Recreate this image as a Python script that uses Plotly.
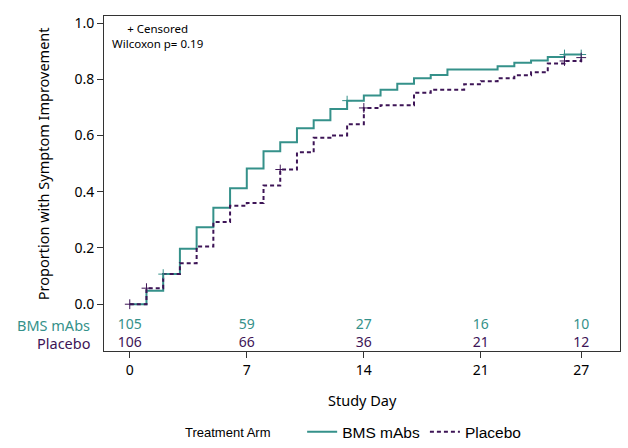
import plotly.graph_objects as go

# ---- data ----
bms_days = [0, 1, 2, 3, 4, 5, 6, 7, 8, 9, 10, 11, 12, 13, 14, 15, 16, 17, 18, 19, 22, 23, 24, 25, 26, 27]
bms_prop = [0.0, 0.048, 0.107, 0.197, 0.274, 0.343, 0.412, 0.483, 0.544, 0.576, 0.626, 0.654, 0.694,
            0.724, 0.742, 0.763, 0.784, 0.804, 0.815, 0.835, 0.846, 0.859, 0.867, 0.879, 0.888, 0.888]
bms_cens_days = [2, 13, 26, 27]
bms_cens_prop = [0.107, 0.724, 0.888, 0.888]

pla_days = [0, 1, 2, 3, 4, 5, 6, 7, 8, 9, 10, 11, 12, 13, 14, 15, 17, 18, 20, 21, 22, 23, 24, 25, 26, 27]
pla_prop = [0.0, 0.057, 0.107, 0.146, 0.205, 0.292, 0.350, 0.360, 0.422, 0.479, 0.540, 0.592, 0.600,
            0.640, 0.698, 0.708, 0.752, 0.763, 0.782, 0.793, 0.804, 0.814, 0.825, 0.856, 0.865, 0.877]
pla_cens_days = [0, 1, 9, 14, 26, 27]
pla_cens_prop = [0.0, 0.057, 0.479, 0.698, 0.865, 0.877]

risk_days = [0, 7, 14, 21, 27]
bms_at_risk = [105, 59, 27, 16, 10]
pla_at_risk = [106, 66, 36, 21, 12]

x_ticks = [0, 7, 14, 21, 27]
y_ticks = [0.0, 0.2, 0.4, 0.6, 0.8, 1.0]
y_tick_labels = ["0.0", "0.2", "0.4", "0.6", "0.8", "1.0"]

TEAL = "#35918a"
PURPLE = "#3d1456"
TICKFONT = "Noto Sans"
LEGFONT = "Liberation Sans"

fig = go.Figure()

fig.add_trace(go.Scatter(x=bms_days, y=bms_prop, mode="lines", line_shape="hv",
                         line=dict(color=TEAL, width=2), name="BMS mAbs"))
fig.add_trace(go.Scatter(x=pla_days, y=pla_prop, mode="lines", line_shape="hv",
                         line=dict(color=PURPLE, width=2, dash="4px,3px"), name="Placebo"))
fig.add_trace(go.Scatter(x=bms_cens_days, y=bms_cens_prop, mode="markers", showlegend=False,
                         marker=dict(symbol="cross-thin", size=7, line=dict(color=TEAL, width=1))))
fig.add_trace(go.Scatter(x=pla_cens_days, y=pla_cens_prop, mode="markers", showlegend=False,
                         marker=dict(symbol="cross-thin", size=7, line=dict(color=PURPLE, width=1))))

# at-risk table rows
y_bms_row = -0.074
y_pla_row = -0.138
fig.add_trace(go.Scatter(x=risk_days, y=[y_bms_row] * len(risk_days), mode="text",
                         text=[str(v) for v in bms_at_risk], showlegend=False,
                         textfont=dict(family=TICKFONT, size=14, color=TEAL)))
fig.add_trace(go.Scatter(x=risk_days, y=[y_pla_row] * len(risk_days), mode="text",
                         text=[str(v) for v in pla_at_risk], showlegend=False,
                         textfont=dict(family=TICKFONT, size=14, color=PURPLE)))

annotations = [
    dict(text="BMS mAbs", xref="paper", yref="y", x=-0.023, y=y_bms_row, xanchor="right",
         yanchor="middle", showarrow=False, font=dict(family=TICKFONT, size=14.5, color=TEAL)),
    dict(text="Placebo", xref="paper", yref="y", x=-0.023, y=y_pla_row, xanchor="right",
         yanchor="middle", showarrow=False, font=dict(family=TICKFONT, size=14.5, color=PURPLE)),
    dict(text="+ Censored<br>Wilcoxon p= 0.19", xref="paper", yref="paper", x=0.104, y=0.99,
         xanchor="center", yanchor="top", align="center", showarrow=False,
         font=dict(family=TICKFONT, size=11.5, color="black")),
    dict(text="Proportion with Symptom Improvement", xref="paper", yref="paper", x=-0.118, y=0.558,
         xanchor="center", yanchor="middle", textangle=-90, showarrow=False,
         font=dict(family=TICKFONT, size=14.5, color="black")),
    dict(text="Study Day", xref="paper", yref="paper", x=0.5, y=-0.146,
         xanchor="center", yanchor="middle", showarrow=False,
         font=dict(family=TICKFONT, size=14.5, color="black")),
    dict(text="Treatment Arm", xref="paper", yref="paper", x=0.239, y=-0.242,
         xanchor="center", yanchor="middle", showarrow=False,
         font=dict(family=LEGFONT, size=13, color="black")),
]

fig.update_layout(
    template="none",
    width=628, height=448,
    margin=dict(l=104, r=8, t=16, b=97, autoexpand=False),
    paper_bgcolor="white", plot_bgcolor="white",
    annotations=annotations,
    showlegend=True,
    legend=dict(orientation="h", x=0.384, xanchor="left", y=-0.242, yanchor="middle",
                font=dict(family=LEGFONT, size=15.5, color="black"),
                bgcolor="rgba(0,0,0,0)", tracegroupgap=0),
    xaxis=dict(range=[-1.54, 29.32], tickvals=x_ticks, ticks="outside", ticklen=6,
               tickcolor="#333", showline=True, linecolor="#333", linewidth=1, mirror=True,
               showgrid=False, zeroline=False, automargin=False,
               tickfont=dict(family=TICKFONT, size=14, color="black")),
    yaxis=dict(range=[-0.1664, 1.025], tickvals=y_ticks, ticktext=y_tick_labels, ticks="outside",
               ticklen=6, tickcolor="#333", showline=True, linecolor="#333", linewidth=1,
               mirror=True, showgrid=False, zeroline=False, automargin=False,
               tickfont=dict(family=TICKFONT, size=14, color="black")),
)

fig.write_html("out.html", config={"displayModeBar": False},
               post_script="document.body.style.margin='0px';document.body.style.overflow='hidden';")
